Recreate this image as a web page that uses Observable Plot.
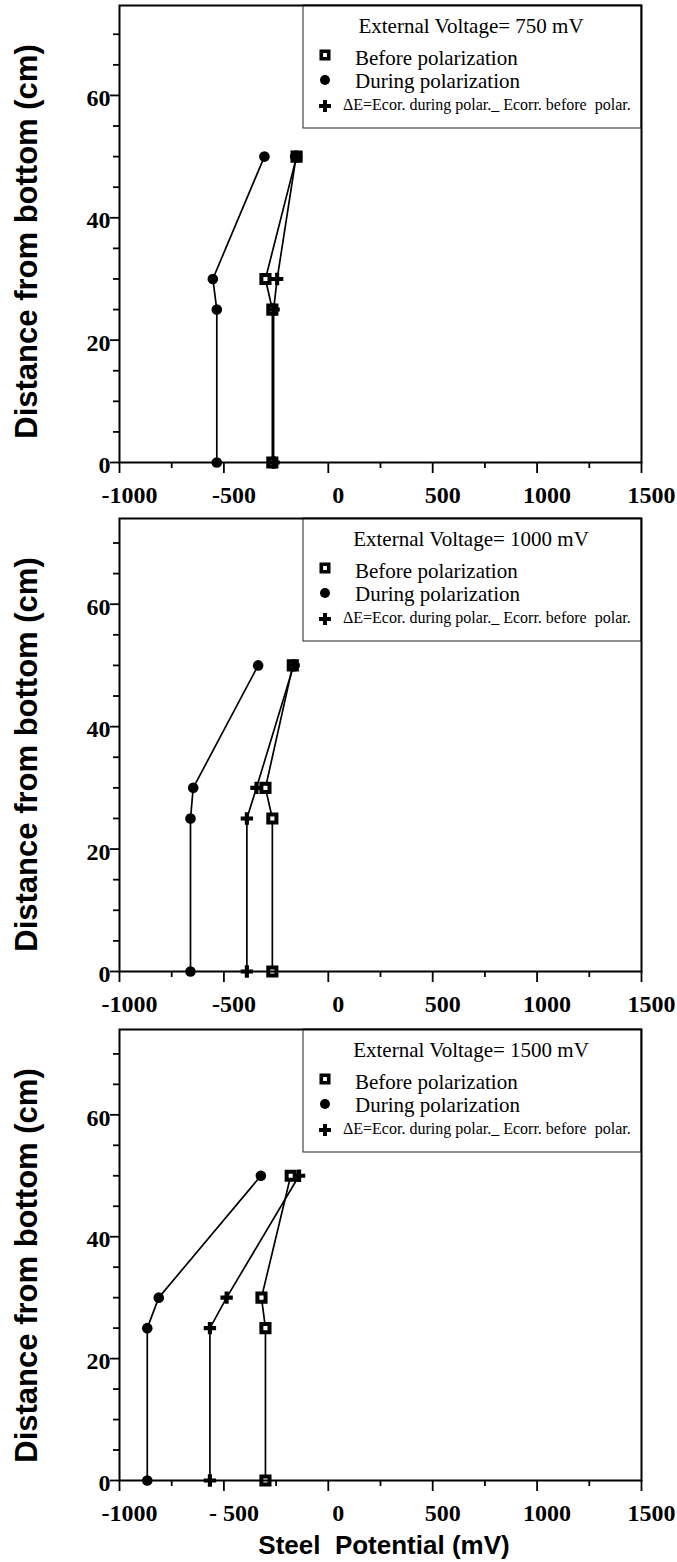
<!DOCTYPE html>
<html><head><meta charset="utf-8">
<script src="https://cdn.jsdelivr.net/npm/d3@7"></script>
<script src="https://cdn.jsdelivr.net/npm/@observablehq/plot@0.6"></script>
<style>body{margin:0;background:#fff} #chart svg{display:block}</style>
</head><body><div id="chart"></div>
<script>
// ---- data ----
const heights = [50, 30, 25, 0];
const voltages = [750, 1000, 1500];
const before750 = [-152, -301, -268, -268];
const during750 = [-306, -553, -534, -534];
const delta750 = [-154, -245, -262, -262];
const before1000 = [-170, -301, -268, -268];
const during1000 = [-336, -647, -660, -660];
const delta1000 = [-166, -344, -390, -390];
const before1500 = [-180, -320, -301, -301];
const during1500 = [-323, -812, -867, -867];
const delta1500 = [-140, -487, -567, -567];
const seriesNames = ["Before polarization", "During polarization", "ΔE=Ecor. during polar._ Ecorr. before  polar."];
const xTicks = [-1000, -500, 0, 500, 1000, 1500];
const xTickLabelsA = ["-1000", "-500", "0", "500", "1000", "1500"];
const xTickLabelsB = ["-1000", "- 500", "0", "500", "1000", "1500"];
const xMinorTicks = [-750, -250, 250, 750, 1250];
const yTicks = [0, 20, 40, 60];
const yTickLabels = ["0", "20", "40", "60"];
const yMinorTicks = [5, 10, 15, 25, 30, 35, 45, 50, 55, 65, 70];
const xLabel = "Steel  Potential (mV)";
const yLabel = "Distance from bottom (cm)";
const titlePrefix = "External Voltage= ";

const seriesByVoltage = [
  [before750, during750, delta750],
  [before1000, during1000, delta1000],
  [before1500, during1500, delta1500]
];

// ---- layout ----
const W = 677, ML = 119, MR = 36;
const panels = [
  {height: 513, marginTop: 5, marginBottom: 51, yMax: 74.7, xLabels: xTickLabelsA, showXLabel: false},
  {height: 511, marginTop: 5, marginBottom: 53, yMax: 74, xLabels: xTickLabelsA, showXLabel: false},
  {height: 538, marginTop: 5, marginBottom: 82, yMax: 74, xLabels: xTickLabelsB, showXLabel: true}
];
const serif = "Liberation Serif, Times New Roman, serif";
const sans = "Liberation Sans, Arial, sans-serif";
const SQ_R = 4.6, SQ_SW = 4, DOT_R = 5.3, CROSS_R = 5.2;

function decor(cfg, voltage) {
  return () => {
    const g = d3.create("svg:g");
    const L = ML, R = W - MR, T = cfg.marginTop;
    const lx = 303;
    const lg = g.append("g").attr("text-anchor", "start");
    lg.append("rect").attr("x", lx).attr("y", T).attr("width", R - lx).attr("height", 123)
      .attr("fill", "white").attr("stroke", "#222").attr("stroke-width", 1);
    lg.append("text").attr("x", 471).attr("y", T + 28).attr("text-anchor", "middle")
      .attr("font-family", serif).attr("font-size", 21).text(titlePrefix + voltage + " mV");
    const sx = 325;
    lg.append("path").attr("transform", `translate(${sx},${T + 50})`)
      .attr("d", d3.symbol(d3.symbolSquare, Math.PI * 4.2 * 4.2)())
      .attr("fill", "white").attr("stroke", "black").attr("stroke-width", 3.6);
    lg.append("path").attr("transform", `translate(${sx},${T + 75})`)
      .attr("d", d3.symbol(d3.symbolCircle, Math.PI * 5 * 5)()).attr("fill", "black");
    lg.append("path").attr("transform", `translate(${sx},${T + 101})`)
      .attr("d", d3.symbol(d3.symbolCross, Math.PI * 5 * 5)()).attr("fill", "black");
    lg.append("text").attr("x", 355).attr("y", T + 60).attr("font-family", serif).attr("font-size", 21).text(seriesNames[0]);
    lg.append("text").attr("x", 355).attr("y", T + 83).attr("font-family", serif).attr("font-size", 21).text(seriesNames[1]);
    lg.append("text").attr("x", 343).attr("y", T + 105).attr("font-family", serif).attr("font-size", 16)
      .style("white-space", "pre").text(seriesNames[2]);
    // y axis label
    const cy = T + 236.5;
    g.append("text").attr("transform", `translate(37,${cy}) rotate(-90)`).attr("text-anchor", "middle")
      .attr("font-family", sans).attr("font-weight", "bold").attr("font-size", 31).text(yLabel);
    if (cfg.showXLabel) {
      g.append("text").attr("x", (L + R) / 2 + 4).attr("y", cfg.height - 8).attr("text-anchor", "middle")
        .attr("font-family", sans).attr("font-weight", "bold").attr("font-size", 26)
        .style("white-space", "pre").text(xLabel);
    }
    return g.node();
  };
}

const chart = document.getElementById("chart");
panels.forEach((cfg, p) => {
  const rows = [];
  seriesByVoltage[p].forEach((vals, s) => {
    vals.forEach((v, i) => rows.push({series: seriesNames[s], potential: v, height: heights[i]}));
  });
  const xLabelMap = new Map(xTicks.map((t, i) => [t, cfg.xLabels[i]]));
  const yLabelMap = new Map(yTicks.map((t, i) => [t, yTickLabels[i]]));
  const svg = Plot.plot({
    width: W, height: cfg.height,
    marginLeft: ML, marginRight: MR, marginTop: cfg.marginTop, marginBottom: cfg.marginBottom,
    style: {background: "white", overflow: "visible"},
    x: {domain: [-1000, 1500], label: null},
    y: {domain: [0, cfg.yMax], label: null},
    marks: [
      decor(cfg, voltages[p]),
      Plot.line(rows, {x: "potential", y: "height", z: "series", stroke: "black", strokeWidth: 1.7}),
      Plot.dot(rows.filter(d => d.series === seriesNames[0]), {x: "potential", y: "height", symbol: "square", r: SQ_R, fill: "white", stroke: "black", strokeWidth: SQ_SW}),
      Plot.dot(rows.filter(d => d.series === seriesNames[2]), {x: "potential", y: "height", symbol: "cross", r: CROSS_R, fill: "black", stroke: null}),
      Plot.dot(rows.filter(d => d.series === seriesNames[1]), {x: "potential", y: "height", symbol: "circle", r: DOT_R, fill: "black", stroke: null}),
      Plot.axisX(xMinorTicks, {tickSize: 6, tickFormat: () => "", label: null, strokeWidth: 1.8}),
      Plot.axisX(xTicks, {tickSize: 11, tickFormat: () => "", label: null, strokeWidth: 1.8}),
      Plot.axisX(xTicks, {tickSize: 0, tickPadding: 23, dx: 10, tickFormat: d => xLabelMap.get(d), label: null,
        fontSize: 24, fontWeight: "bold", fontFamily: serif, fill: "black"}),
      Plot.axisY(yMinorTicks, {tickSize: 6, tickFormat: () => "", label: null, strokeWidth: 1.8}),
      Plot.axisY(yTicks, {tickSize: 9, tickFormat: () => "", label: null, strokeWidth: 1.8}),
      Plot.axisY(yTicks, {tickSize: 0, tickPadding: 9, dy: 3, tickFormat: d => yLabelMap.get(d), label: null,
        fontSize: 24, fontWeight: "bold", fontFamily: serif, fill: "black"}),
      Plot.frame({stroke: "black", strokeWidth: 2})
    ]
  });
  chart.appendChild(svg);
});
</script>
</body></html>
